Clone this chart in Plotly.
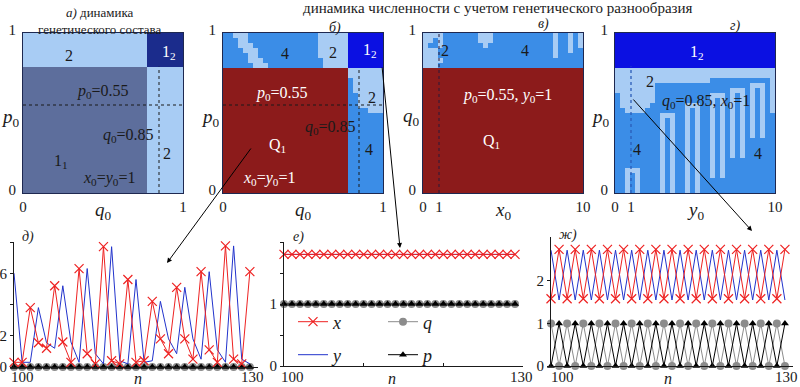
import plotly.graph_objects as go

W, H = 800, 387
SERIF = "Liberation Serif, Times New Roman, serif"
DARK = "#1a1a1a"

# ---------------- data: time series (n = 100..129) ----------------
N = [100, 101, 102, 103, 104, 105, 106, 107, 108, 109, 110, 111, 112, 113, 114,
     115, 116, 117, 118, 119, 120, 121, 122, 123, 124, 125, 126, 127, 128, 129]
N_TICKS = [100, 110, 120, 130]
N_TICK_LABELS = ["100", "130"]

# д) chaotic regime
X_D = [0.3, 0.3, 3.8, 1.55, 1.2, 5.2, 1.6, 0.3, 6.3, 0.85, 0.2, 7.7, 0.4, 0.2, 5.6,
       0.3, 0.4, 4.2, 1.8, 0.85, 5.1, 1.8, 0.5, 6.1, 1.1, 0.3, 7.75, 0.5, 0.2, 6.1]
Y_D = [6.0, 0.3, 0.3, 3.8, 1.55, 1.2, 5.2, 1.6, 0.3, 6.3, 0.85, 0.2, 7.7, 0.4, 0.2,
       5.6, 0.3, 0.4, 4.2, 1.8, 0.85, 5.1, 1.8, 0.5, 6.1, 1.1, 0.3, 7.75, 0.5, 0.2]
Q_D = [0, 0, 0, 0, 0, 0, 0, 0, 0, 0, 0, 0, 0, 0, 0, 0, 0, 0, 0, 0, 0, 0, 0, 0, 0, 0, 0, 0, 0, 0]
P_D = [0, 0, 0, 0, 0, 0, 0, 0, 0, 0, 0, 0, 0, 0, 0, 0, 0, 0, 0, 0, 0, 0, 0, 0, 0, 0, 0, 0, 0, 0]

# е) stationary regime
X_E = [1.8, 1.8, 1.8, 1.8, 1.8, 1.8, 1.8, 1.8, 1.8, 1.8, 1.8, 1.8, 1.8, 1.8, 1.8,
       1.8, 1.8, 1.8, 1.8, 1.8, 1.8, 1.8, 1.8, 1.8, 1.8, 1.8, 1.8, 1.8, 1.8, 1.8]
Y_E = [1.8, 1.8, 1.8, 1.8, 1.8, 1.8, 1.8, 1.8, 1.8, 1.8, 1.8, 1.8, 1.8, 1.8, 1.8,
       1.8, 1.8, 1.8, 1.8, 1.8, 1.8, 1.8, 1.8, 1.8, 1.8, 1.8, 1.8, 1.8, 1.8, 1.8]
Q_E = [1, 1, 1, 1, 1, 1, 1, 1, 1, 1, 1, 1, 1, 1, 1, 1, 1, 1, 1, 1, 1, 1, 1, 1, 1, 1, 1, 1, 1, 1]
P_E = [1, 1, 1, 1, 1, 1, 1, 1, 1, 1, 1, 1, 1, 1, 1, 1, 1, 1, 1, 1, 1, 1, 1, 1, 1, 1, 1, 1, 1, 1]

# ж) 2-cycle regime
X_G = [1.58, 2.74, 1.58, 2.74, 1.58, 2.74, 1.58, 2.74, 1.58, 2.74, 1.58, 2.74, 1.58, 2.74, 1.58,
       2.74, 1.58, 2.74, 1.58, 2.74, 1.58, 2.74, 1.58, 2.74, 1.58, 2.74, 1.58, 2.74, 1.58, 2.74]
Y_G = [2.72, 1.55, 2.72, 1.55, 2.72, 1.55, 2.72, 1.55, 2.72, 1.55, 2.72, 1.55, 2.72, 1.55, 2.72,
       1.55, 2.72, 1.55, 2.72, 1.55, 2.72, 1.55, 2.72, 1.55, 2.72, 1.55, 2.72, 1.55, 2.72, 1.55]
Q_G = [1, 0, 1, 0, 1, 0, 1, 0, 1, 0, 1, 0, 1, 0, 1, 0, 1, 0, 1, 0, 1, 0, 1, 0, 1, 0, 1, 0, 1, 0]
P_G = [0, 1, 0, 1, 0, 1, 0, 1, 0, 1, 0, 1, 0, 1, 0, 1, 0, 1, 0, 1, 0, 1, 0, 1, 0, 1, 0, 1, 0, 1]

# ---------------- data: parameter-plane maps ----------------
# codes: S = 1_1, L = 2, M = 4, N = 1_2 (a), B = 1_2, Q = Q_1
P0_FIX = 0.55
Q0_FIX = 0.85
X0_FIX = 1
Y0_FIX = 1

A_Q_EDGES = [0, 0.775, 1.0]
A_P_EDGES = [0, 0.79, 1.0]
A_MAP = ["LN",
         "SL"]          # top row first

B_MAP = (["MMLLLMMMMMMMMMMMMMMLLLLLLBBBBBBB",
          "MMMLLMMMMMMMMMMMMMMLLLLLLBBBBBBB",
          "MMMLLLMMMMMMMMMMMMMLLLLLLBBBBBBB",
          "MMMMLLLMMMMMMMMMMMMLLLLLLBBBBBBB",
          "MMMMMLLMMMMMMMMMMMMLLLLLLBBBBBBB",
          "MMMMMLLLMMMMMMMMMMMMLLLLLBBBBBBB",
          "MMMMMMLLLMMMMMMMMMMMLLLLLBBBBBBB"]
         + ["QQQQQQQQQQQQQQQQQQQQQQQQQLLLLLLL"] * 2
         + ["QQQQQQQQQQQQQQQQQQQQQQQQQMLLLLLL"] * 3
         + ["QQQQQQQQQQQQQQQQQQQQQQQQQMMLLLLL"] * 3
         + ["QQQQQQQQQQQQQQQQQQQQQQQQQMMMMLLL"]
         + ["QQQQQQQQQQQQQQQQQQQQQQQQQMMMMMMM"] * 16)

C_MAP = (["LLLLMMMMMMMLLLMMMMMMMMMMMMLMMLML",
          "LLMLMMMMMMMLLLMMMMMMMMMMMMLMMLML",
          "LMMLMMMMMMMMLMMMMMMMMMMMMMLMMLML",
          "LLLMMMMMMMMMMMMMMMMMMMMMMMLMMLMM",
          "LLLMMMMMMMMMMMMMMMMMMMMMMMLMMMMM",
          "LLLLMMMMMMMMMMMMMMMMMMMMMMMMMMMM",
          "LLLMMMMMMMMMMMMMMMMMMMMMMMMMMMMM"]
         + ["QQQQQQQQQQQQQQQQQQQQQQQQQQQQQQQQ"] * 25)

D_MAP = (["BBBBBBBBBBBBBBBBBBBBBBBBBBBBBBBB"] * 7
         + ["LLLLLLLLLLLLLLLLLLLLLLLLLLLLLLLL"] * 2
         + ["LLLLLLLLLLLLLLLLLLLMMMMMMMMMMMML",
            "LLLLLLLLMMMMMMMMMMMMMMMMMMMLLLML",
            "LLLLLLLLMMMMMMMMMMMMMMMLLLMLMLML",
            "MLLLLLLLMMMMMMMMMMMLLLMLMLMLMLML",
            "MLLLLLLLMMMMMMMMMMMLMLMLMLMLMLML",
            "MLLLLLLMMMMMMMLLLMMLMLMLMLMLMLML",
            "MMLLLLMMMMMMMMLMLMMLMLMLMLMLMLML",
            "MMMMMMMMMLLLMMLMLMMLMLMLMLMLMLMM"]
         + ["MMMMMMMMMLMLMMLMLMMLMLMLMLMLMLMM"] * 4
         + ["MMMMMMMMMLMLMMLMLMMLMLMLMLMMMMMM"] * 4
         + ["MMMMMMMMMLMLMMLMLMMLMLMMMMMMMMMM"] * 2
         + ["MMLLLMMMMLMLMMLMLMMLMLMMMMMMMMMM",
            "MMLMLMMMMLMLMMLMLMMLMLMMMMMMMMMM"]
         + ["MMLMLMMMMLMLMMLMLMMMMMMMMMMMMMMM"] * 3)

CAT_CODE = {"S": 0, "L": 1, "M": 2, "N": 3, "B": 4, "Q": 5}
CAT_COLOR = ["#5d6e9c", "#a8ccf4", "#3b8de7", "#1b2c8c", "#0b10e2", "#8c1b1b"]

RED, BLUE, GRAY = "#ee2222", "#2233cc", "#8c8c8c"


def to_z(rows_top_down):
    return [[CAT_CODE[ch] for ch in row] for row in reversed(rows_top_down)]


def X(px):
    return px / W


def Y(py):
    return 1 - py / H


colorscale = []
for i, c in enumerate(CAT_COLOR):
    colorscale += [[i / 6, c], [(i + 1) / 6, c]]

fig = go.Figure()

hm = dict(colorscale=colorscale, zmin=-0.5, zmax=5.5, showscale=False, hoverinfo="skip")
fig.add_trace(go.Heatmap(z=to_z(A_MAP), x=A_Q_EDGES, y=A_P_EDGES, xaxis="x", yaxis="y", **hm))
fig.add_trace(go.Heatmap(z=to_z(B_MAP), x0=1 / 64, dx=1 / 32, y0=1 / 64, dy=1 / 32,
                         xaxis="x2", yaxis="y2", **hm))
fig.add_trace(go.Heatmap(z=to_z(C_MAP), x0=10 / 64, dx=10 / 32, y0=1 / 64, dy=1 / 32,
                         xaxis="x3", yaxis="y3", **hm))
fig.add_trace(go.Heatmap(z=to_z(D_MAP), x0=10 / 64, dx=10 / 32, y0=1 / 64, dy=1 / 32,
                         xaxis="x4", yaxis="y4", **hm))

# dotted reference lines at the fixed parameter values
dot = dict(mode="lines", showlegend=False, hoverinfo="skip")
fig.add_trace(go.Scatter(x=[0, 1], y=[P0_FIX, P0_FIX], xaxis="x", yaxis="y",
                         line=dict(color=DARK, width=1, dash="dot"), **dot))
fig.add_trace(go.Scatter(x=[Q0_FIX, Q0_FIX], y=[0, A_P_EDGES[1]], xaxis="x", yaxis="y",
                         line=dict(color=DARK, width=1, dash="dot"), **dot))
fig.add_trace(go.Scatter(x=[0, 1], y=[P0_FIX, P0_FIX], xaxis="x2", yaxis="y2",
                         line=dict(color=DARK, width=1, dash="dot"), **dot))
fig.add_trace(go.Scatter(x=[Q0_FIX, Q0_FIX], y=[0, 0.78], xaxis="x2", yaxis="y2",
                         line=dict(color=DARK, width=1, dash="dot"), **dot))
fig.add_trace(go.Scatter(x=[X0_FIX, X0_FIX], y=[0, 1], xaxis="x3", yaxis="y3",
                         line=dict(color="#2a1a3a", width=1, dash="dot"), **dot))
fig.add_trace(go.Scatter(x=[Y0_FIX, Y0_FIX], y=[0, 0.79], xaxis="x4", yaxis="y4",
                         line=dict(color="#2a5cb8", width=1.3, dash="dot"), **dot))


def add_series(xa, ya, xs, ys, qs, ps, legend=False):
    fig.add_trace(go.Scatter(x=N, y=qs, xaxis=xa, yaxis=ya, mode="lines+markers", name="<i>q</i>",
                             line=dict(color=GRAY, width=1), marker=dict(symbol="circle", size=8, color=GRAY),
                             cliponaxis=False, showlegend=legend, legend="legend", legendrank=2,
                             hoverinfo="skip"))
    fig.add_trace(go.Scatter(x=N, y=ps, xaxis=xa, yaxis=ya, mode="lines+markers", name="<i>p</i>",
                             line=dict(color="#000000", width=1),
                             marker=dict(symbol="triangle-up", size=7, color="#000000"),
                             cliponaxis=False, showlegend=legend, legend="legend2", legendrank=2,
                             hoverinfo="skip"))
    fig.add_trace(go.Scatter(x=N, y=ys, xaxis=xa, yaxis=ya, mode="lines", name="<i>y</i>",
                             line=dict(color=BLUE, width=1),
                             cliponaxis=False, showlegend=legend, legend="legend2", legendrank=1,
                             hoverinfo="skip"))
    fig.add_trace(go.Scatter(x=N, y=xs, xaxis=xa, yaxis=ya, mode="lines+markers", name="<i>x</i>",
                             line=dict(color=RED, width=1),
                             marker=dict(symbol="x-thin-open", size=9, color=RED, line=dict(width=1.2, color=RED)),
                             cliponaxis=False, showlegend=legend, legend="legend", legendrank=1,
                             hoverinfo="skip"))


add_series("x5", "y5", X_D, Y_D, Q_D, P_D)
add_series("x6", "y6", X_E, Y_E, Q_E, P_E, legend=True)
add_series("x7", "y7", X_G, Y_G, Q_G, P_G)

# ---------------- axes ----------------
tickfont = dict(family=SERIF, size=15, color=DARK)
top_y = [Y(193), Y(33)]
top_specs = [
    (1, [23, 183], [0, 1], [0, 1], ["0", "1"]),
    (2, [223, 383], [0, 1], [0, 1], ["0", "1"]),
    (3, [423, 583], [0, 10], [0, 1, 10], ["0", "1", "10"]),
    (4, [615, 775], [0, 10], [0, 1, 10], ["0", "1", "10"]),
]
layout_axes = {}
for i, xd, xr, tv, tt in top_specs:
    sx = "" if i == 1 else str(i)
    layout_axes["xaxis" + sx] = dict(domain=[X(xd[0]), X(xd[1])], range=xr, anchor="y" + sx,
                                     automargin=False,
                                     showgrid=False, zeroline=False, showline=True, mirror=True,
                                     linecolor="#1e2850", linewidth=1, tickvals=tv, ticktext=tt,
                                     ticks="", tickfont=tickfont, fixedrange=True)
    layout_axes["yaxis" + sx] = dict(domain=top_y, range=[0, 1], anchor="x" + sx,
                                     automargin=False,
                                     showgrid=False, zeroline=False, showline=True, mirror=True,
                                     linecolor="#1e2850", linewidth=1, tickvals=[0, 1], ticktext=["0", "1"],
                                     ticks="outside", ticklen=3, tickcolor="rgba(0,0,0,0)",
                                     ticklabelshift=-3,
                                     tickfont=tickfont, fixedrange=True)

bot_specs = [
    (5, [14, 258], [Y(367), Y(242)], [0, 8], [0, 2, 4, 6, 8], ["0", "2", "", "6", ""]),
    (6, [284, 523], [Y(366), Y(242)], [0, 2], [0, 0.5, 1, 1.5, 2], ["0", "", "1", "", ""]),
    (7, [551, 793], [Y(366), Y(237)], [0, 3.03], [0, 1, 2], ["0", "1", "2"]),
]
for i, xd, yd, yr, ytv, ytt in bot_specs:
    sx = str(i)
    layout_axes["xaxis" + sx] = dict(domain=[X(xd[0]), X(xd[1])], range=[100, 130], anchor="y" + sx,
                                     automargin=False,
                                     showgrid=False, zeroline=False, showline=True, linecolor=DARK,
                                     linewidth=1, tickvals=N_TICKS, showticklabels=False,
                                     ticks="inside", ticklen=3,
                                     tickcolor=DARK, fixedrange=True)
    layout_axes["yaxis" + sx] = dict(domain=yd, range=yr, anchor="x" + sx,
                                     automargin=False,
                                     showgrid=False, zeroline=False, showline=True, linecolor=DARK,
                                     linewidth=1, tickvals=ytv, ticktext=ytt, ticks="outside", ticklen=3,
                                     tickcolor=DARK, tickfont=tickfont, fixedrange=True)

# ---------------- annotations ----------------
anns = []


def ann(text, x, y, xref="paper", yref="paper", color=DARK, size=16, yanchor="middle"):
    anns.append(dict(text=text, x=x, y=y, xref=xref, yref=yref, showarrow=False,
                     xanchor="center", yanchor=yanchor,
                     font=dict(family=SERIF, size=size, color=color)))


WHITE = "#ffffff"
P0T = "<i>p</i><sub>0</sub>=0.55"
Q0T = "<i>q</i><sub>0</sub>=0.85"
XYT = "<i>x</i><sub>0</sub>=<i>y</i><sub>0</sub>=1"

# panel a
ann("2", 0.29, 0.86, "x", "y")
ann("1<sub>2</sub>", 0.91, 0.88, "x", "y", WHITE)
ann(P0T, 0.50, 0.635, "x", "y")
ann(Q0T, 0.66, 0.36, "x", "y")
ann("2", 0.90, 0.25, "x", "y")
ann("1<sub>1</sub>", 0.24, 0.20, "x", "y")
ann(XYT, 0.54, 0.09, "x", "y")
# panel b
ann("4", 0.39, 0.87, "x2", "y2")
ann("2", 0.686, 0.88, "x2", "y2")
ann("1<sub>2</sub>", 0.92, 0.89, "x2", "y2", WHITE)
ann(P0T, 0.37, 0.625, "x2", "y2", WHITE)
ann("2", 0.93, 0.60, "x2", "y2")
ann(Q0T, 0.67, 0.41, "x2", "y2")
ann("Q<sub>1</sub>", 0.34, 0.30, "x2", "y2", WHITE)
ann("4", 0.91, 0.27, "x2", "y2")
ann(XYT, 0.29, 0.09, "x2", "y2", WHITE)
# panel c
ann("2", 1.375, 0.89, "x3", "y3")
ann("4", 6.4, 0.89, "x3", "y3")
ann("<i>p</i><sub>0</sub>=0.55, <i>y</i><sub>0</sub>=1", 5.3, 0.61, "x3", "y3", WHITE)
ann("Q<sub>1</sub>", 4.3, 0.32, "x3", "y3", WHITE)
# panel d
ann("1<sub>2</sub>", 5.1, 0.88, "x4", "y4", WHITE)
ann("2", 2.2, 0.70, "x4", "y4")
ann("<i>q</i><sub>0</sub>=0.85, <i>x</i><sub>0</sub>=1", 5.7, 0.575, "x4", "y4")
ann("4", 1.4, 0.27, "x4", "y4")
ann("4", 8.95, 0.25, "x4", "y4")

# titles
ann("динамика численности с учетом генетического разнообразия", X(498), Y(8), size=15)
ann("<i>а)</i> динамика<br>генетического состава", X(100), Y(21), size=13)
ann("<i>б)</i>", X(335), Y(28), size=14)
ann("<i>в)</i>", X(543), Y(24), size=14)
ann("<i>г)</i>", X(735), Y(26), size=14)
ann("<i>д)</i>", X(28), Y(237), size=14)
ann("<i>е)</i>", X(298), Y(237), size=14)
ann("<i>ж)</i>", X(568), Y(235), size=14)

# axis titles
for t, px, py in [("<i>p</i><sub>0</sub>", 10, 118), ("<i>p</i><sub>0</sub>", 210, 118),
                  ("<i>q</i><sub>0</sub>", 411, 117), ("<i>p</i><sub>0</sub>", 600, 118),
                  ("<i>q</i><sub>0</sub>", 103, 211), ("<i>q</i><sub>0</sub>", 303, 211),
                  ("<i>x</i><sub>0</sub>", 503, 211), ("<i>y</i><sub>0</sub>", 695, 211)]:
    ann(t, X(px), Y(py), size=19)
for px in [138, 392, 668]:
    ann("<i>n</i>", X(px), Y(378), size=16)

# bottom time-axis tick labels (first / last tick)
for lx, rx in [(22, 252), (292, 521), (562, 786)]:
    ann(N_TICK_LABELS[0], X(lx), Y(377), size=15)
    ann(N_TICK_LABELS[1], X(rx), Y(377), size=15)

# arrows from parameter maps to the time series
for (tx, ty), (hx, hy) in [((252, 147), (167, 263)), ((382, 66), (400, 248)), ((632, 98), (752, 231))]:
    anns.append(dict(x=X(hx), y=Y(hy), xref="paper", yref="paper", text="", showarrow=True,
                     ax=tx - hx, ay=ty - hy, arrowhead=2, arrowsize=1, arrowwidth=1,
                     arrowcolor="#000000"))

legend_common = dict(orientation="h", xanchor="left", yanchor="middle", bgcolor="rgba(0,0,0,0)",
                     entrywidth=45, entrywidthmode="pixels", itemwidth=30,
                     font=dict(family=SERIF, size=18, color=DARK), traceorder="normal")

fig.update_layout(
    template="none",
    width=W, height=H, margin=dict(l=0, r=0, t=0, b=0, autoexpand=False),
    paper_bgcolor="white", plot_bgcolor="white",
    font=dict(family=SERIF, color=DARK),
    annotations=anns,
    legend=dict(x=X(293), y=Y(322), **legend_common),
    legend2=dict(x=X(293), y=Y(355), **legend_common),
    **layout_axes,
)

fig.write_html("out.html", config={"displayModeBar": False},
               post_script="document.body.style.margin='0px';document.body.style.overflow='hidden';")
